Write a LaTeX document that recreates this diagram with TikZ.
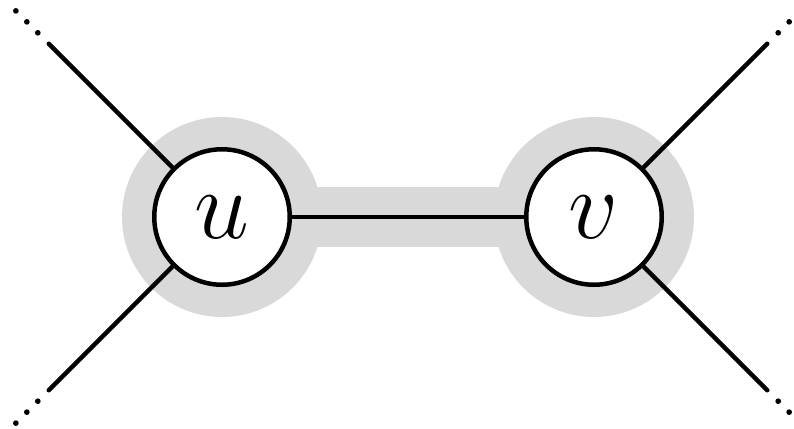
\RequirePackage{fix-cm}
\documentclass[tikz,border=0pt]{standalone}
\usetikzlibrary{backgrounds, calc}
\definecolor{halo}{gray}{0.85}

\begin{document}
\begin{tikzpicture}[
  vert/.style={draw, circle, line width=.09cm, minimum size=2.71cm,
               inner sep=0pt, fill=white, font=\fontsize{56}{60}\selectfont},
  edge/.style={line width=.09cm, line cap=round},
  dot/.style={fill=black},
]
\useasboundingbox (0,0) rectangle (15.88,8.56);

\node[vert] (u) at (4.44,4.22) {$u$};
\node[vert] (v) at (11.88,4.22) {$v$};

% loose ends
\coordinate (ul) at ($(u)+(135:4.9)$);
\coordinate (dl) at ($(u)+(225:4.9)$);
\coordinate (ur) at ($(v)+(45:4.9)$);
\coordinate (dr) at ($(v)+(-45:4.9)$);

\draw[edge] (u) -- (v);
\foreach \e in {ul, dl}
  \draw[edge] (u) -- (\e);
\foreach \e in {ur, dr}
  \draw[edge] (v) -- (\e);
\foreach \e/\a in {ul/135, dl/225, ur/45, dr/-45}
  \foreach \k in {1,2,3}
    \fill[dot] ($(\e)+(\a:{\k*0.31})$) circle (.057);

% shaded contracted edge
\begin{scope}[on background layer]
\fill[halo] (u) circle (2);
\fill[halo] (v) circle (2);
\draw[halo, line width=1.2cm] (u) -- (v);
\end{scope}
\end{tikzpicture}
\end{document}
